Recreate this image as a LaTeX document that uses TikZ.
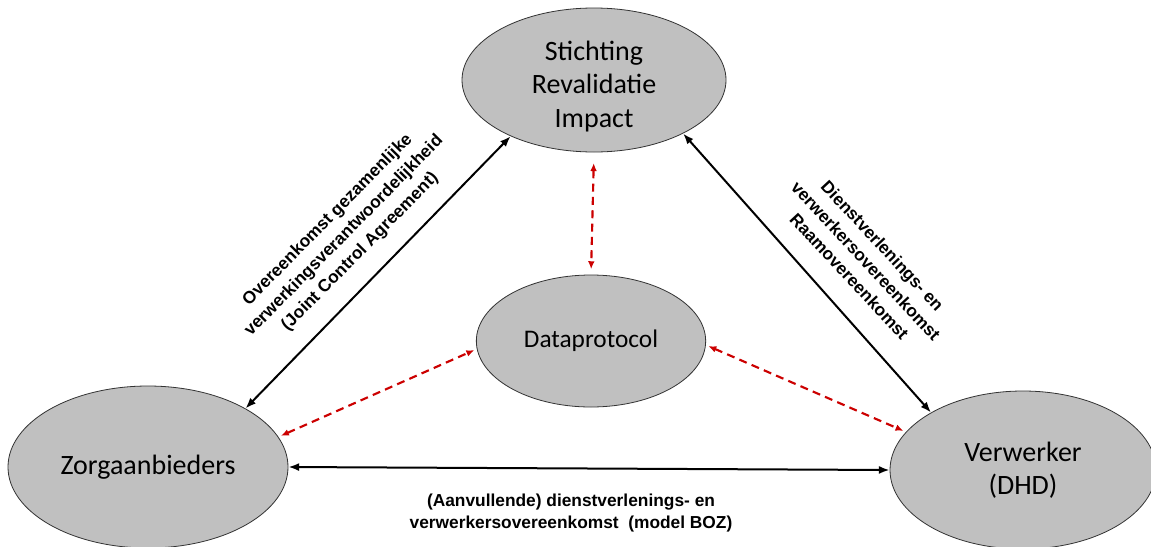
\documentclass[tikz,border=0pt]{standalone}
\usepackage{fontspec}
\setmainfont{Carlito}
\newfontfamily\labfont{Liberation Sans}
\usetikzlibrary{shapes.geometric,arrows.meta}
\definecolor{ellfill}{RGB}{192,192,192}
\definecolor{reddash}{RGB}{204,0,0}
\tikzset{
  party/.style={ellipse,draw=black!80,line width=0.6pt,fill=ellfill,inner sep=0pt,align=center,
    font=\fontsize{21}{25}\selectfont},
  contract/.style={draw=black,line width=1.5pt,{Latex[length=8pt,width=6pt]}-{Latex[length=8pt,width=6pt]}},
  datalink/.style={draw=reddash,line width=1.6pt,dash pattern=on 6pt off 4pt,
    {Latex[length=6pt,width=5pt]}-{Latex[length=6pt,width=5pt]}},
  lbl/.style={align=center,font=\labfont\bfseries\fontsize{13}{17}\selectfont,inner sep=0pt}
}
\begin{document}
\begin{tikzpicture}[x=0.75pt,y=-0.75pt]
\useasboundingbox[fill=white] (0,0) rectangle (1151,546);
\node[party,minimum width=198pt,minimum height=108pt] (sri) at (594,80)
  {\raisebox{-10.5pt}[0pt][0pt]{\begin{tabular}{@{}c@{}}Stichting\\Revalidatie\\Impact\end{tabular}}};
\node[party,minimum width=172pt,minimum height=99pt,font=\fontsize{19}{23}\selectfont] (data) at (591,341) {Dataprotocol};
\node[party,minimum width=210pt,minimum height=121.5pt] (zorg) at (148,467) {Zorgaanbieders};
\node[party,minimum width=199.5pt,minimum height=118.5pt] (verw) at (1023,470) {Verwerker\\(DHD)};

\draw[contract] (zorg.31) -- (sri.214);
\draw[contract] (sri.-31.5) -- (verw.148.5);
\draw[contract] (zorg.east) -- (verw.west);

\draw[datalink,shorten <=8pt,shorten >=4pt] (sri.south) -- (data.north);
\draw[datalink,shorten <=2pt,shorten >=2pt] (zorg.13) -- (data.184);
\draw[datalink,shorten <=2pt,shorten >=2pt] (data.-2) -- (verw.162.6);

\node[lbl,rotate=45.4] (l1) at (344,236) {Overeenkomst gezamenlijke\\verwerkingsverantwoordelijkheid\\(Joint Control Agreement)};
\node[lbl,rotate=-47] (l2) at (866,261) {Dienstverlenings- en\\verwerkersovereenkomst\\Raamovereenkomst};
\node[lbl] (l3) at (571,513) {(Aanvullende) dienstverlenings- en\\verwerkersovereenkomst\ \ (model BOZ)};
\end{tikzpicture}
\end{document}
